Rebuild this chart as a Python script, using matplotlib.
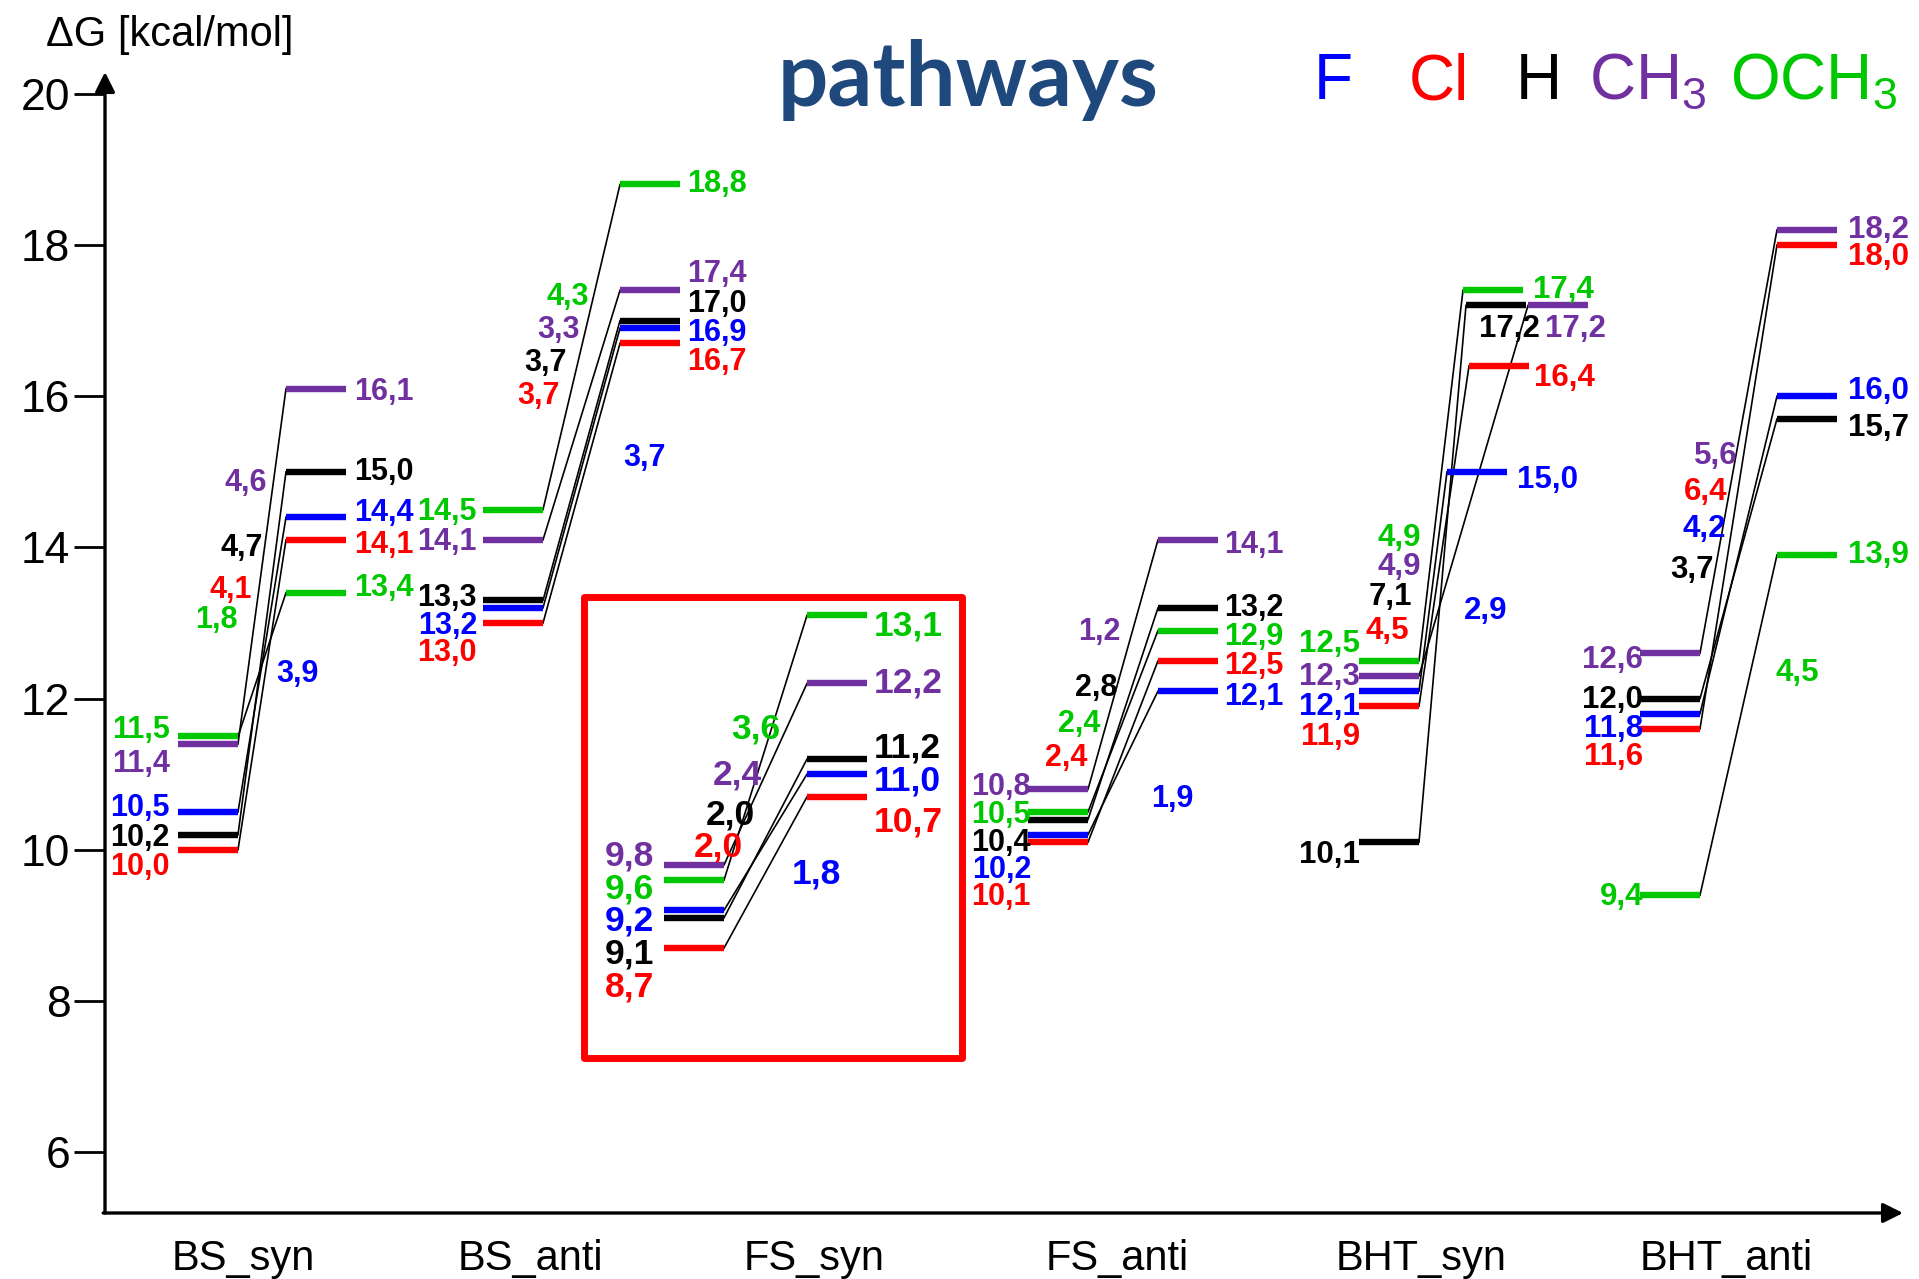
import matplotlib
matplotlib.use("Agg")
import matplotlib.pyplot as plt
from matplotlib.patches import Rectangle

plt.rcParams['font.family'] = ['Liberation Sans', 'DejaVu Sans']
plt.rcParams['mathtext.fontset'] = 'custom'
plt.rcParams['mathtext.rm'] = 'Liberation Sans'
plt.rcParams['mathtext.default'] = 'regular'

# ---------------------------------------------------------------- data
categories = ['BS_syn', 'BS_anti', 'FS_syn', 'FS_anti', 'BHT_syn', 'BHT_anti']
substituents = ['F', 'Cl', 'H', 'CH3', 'OCH3']
legend_labels = ['F', 'Cl', 'H', 'CH$_3$', 'OCH$_3$']

# ΔG of the starting level, of the upper level and the barrier label, kcal/mol
F_start = [10.5, 13.2, 9.2, 10.2, 12.1, 11.8]
F_upper = [14.4, 16.9, 11.0, 12.1, 15.0, 16.0]
F_barrier = [3.9, 3.7, 1.8, 1.9, 2.9, 4.2]

Cl_start = [10.0, 13.0, 8.7, 10.1, 11.9, 11.6]
Cl_upper = [14.1, 16.7, 10.7, 12.5, 16.4, 18.0]
Cl_barrier = [4.1, 3.7, 2.0, 2.4, 4.5, 6.4]

H_start = [10.2, 13.3, 9.1, 10.4, 10.1, 12.0]
H_upper = [15.0, 17.0, 11.2, 13.2, 17.2, 15.7]
H_barrier = [4.7, 3.7, 2.0, 2.8, 7.1, 3.7]

CH3_start = [11.4, 14.1, 9.8, 10.8, 12.3, 12.6]
CH3_upper = [16.1, 17.4, 12.2, 14.1, 17.2, 18.2]
CH3_barrier = [4.6, 3.3, 2.4, 1.2, 4.9, 5.6]

OCH3_start = [11.5, 14.5, 9.6, 10.5, 12.5, 9.4]
OCH3_upper = [13.4, 18.8, 13.1, 12.9, 17.4, 13.9]
OCH3_barrier = [1.8, 4.3, 3.6, 2.4, 4.9, 4.5]

y_ticks = [6, 8, 10, 12, 14, 16, 18, 20]

start = {'F': F_start, 'Cl': Cl_start, 'H': H_start, 'CH3': CH3_start, 'OCH3': OCH3_start}
upper = {'F': F_upper, 'Cl': Cl_upper, 'H': H_upper, 'CH3': CH3_upper, 'OCH3': OCH3_upper}
barrier = {'F': F_barrier, 'Cl': Cl_barrier, 'H': H_barrier, 'CH3': CH3_barrier,
           'OCH3': OCH3_barrier}

# ---------------------------------------------------------------- style / layout
colors = {'F': '#0000FF', 'Cl': '#FF0000', 'H': '#000000', 'CH3': '#7030A0', 'OCH3': '#00C800'}

W, H = 1919, 1279
cat_x = [243, 530, 814, 1117, 1421, 1726]          # category label centres
left_x0 = [178, 483, 664, 1028, 1359, 1640]        # start of the lower level bars
right_x0 = [286, 620, 807, 1158, 1465, 1777]       # start of the upper level bars
right_x0_special = {4: {'F': 1447, 'Cl': 1469, 'H': 1466, 'CH3': 1528, 'OCH3': 1463}}
BAR_W = 60

left_lab_x = [170, 477, 654, 1031, 1360, 1643]     # right edge of the lower labels
right_lab_x = [354, 687, 874, 1224, 1520, 1848]    # left edge of the upper labels
right_lab_special = {4: {'F': 1517, 'Cl': 1534, 'H': 1479, 'CH3': 1545, 'OCH3': 1533}}
label_size = [22, 22, 25.5, 22, 22.5, 22.5]

# vertical nudges of the value labels (order F, Cl, H, CH3, OCH3)
left_dv = [
    [0.05, -0.23, -0.04, -0.26, 0.08],
    [-0.24, -0.40, 0.03, -0.03, -0.03],
    [-0.14, -0.52, -0.48, 0.12, -0.12],
    [-0.47, -0.72, -0.31, 0.03, -0.04],
    [-0.21, -0.41, -0.17, -0.01, 0.22],
    [-0.20, -0.37, -0.02, -0.09, -0.02],
]
right_dv = [
    [0.05, -0.07, 0.0, -0.04, 0.06],
    [-0.07, -0.25, 0.22, 0.22, 0.0],
    [-0.09, -0.33, 0.15, 0.0, -0.14],
    [-0.08, -0.07, 0.0, -0.07, -0.08],
    [-0.11, -0.16, -0.31, -0.31, 0.0],
    [0.07, -0.16, -0.12, 0.0, 0.0],
]
# positions of the barrier labels (x centre, y)
barrier_pos = [
    [(297.5, 12.33), (230.5, 13.44), (242, 13.99), (245.5, 14.85), (216, 13.04)],
    [(644.5, 15.18), (538.5, 16.00), (546, 16.44), (559, 16.87), (568, 17.31)],
    [(816, 9.68), (718, 10.04), (730, 10.46), (737.5, 10.99), (756, 11.60)],
    [(1172.5, 10.67), (1066.5, 11.21), (1096, 12.14), (1099, 12.88), (1079.5, 11.66)],
    [(1485.5, 13.16), (1387, 12.89), (1390.5, 13.34), (1399, 13.74), (1399, 14.13)],
    [(1704, 14.24), (1706, 14.73), (1692, 13.70), (1716, 15.21), (1797, 12.34)],
]


def fmt(v):
    return f"{v:.1f}".replace('.', ',')


fig = plt.figure(figsize=(W / 100, H / 100), dpi=100)
ax_left, ax_right, ax_top, ax_bottom = 105, 1903, 72, 1213
ax = fig.add_axes([ax_left / W, 1 - ax_bottom / H, (ax_right - ax_left) / W,
                   (ax_bottom - ax_top) / H])
ax.set_xlim(ax_left, ax_right)
ax.set_ylim(5.196, 20.288)
for s in ax.spines.values():
    s.set_visible(False)

# axes drawn as arrows
arrow = dict(arrowstyle='-|>', lw=2.4, color='black', mutation_scale=30, shrinkA=0, shrinkB=0)
ax.annotate('', xy=(0, 1), xytext=(0, 0), xycoords='axes fraction', arrowprops=arrow)
ax.annotate('', xy=(1, 0), xytext=(-0.001, 0), xycoords='axes fraction', arrowprops=arrow)

ax.set_yticks(y_ticks)
ax.set_yticklabels([str(t) for t in y_ticks], fontsize=32)
ax.tick_params(axis='y', direction='out', length=22, width=2, pad=3)
ax.set_xticks(cat_x)
ax.set_xticklabels(categories, fontsize=30)
ax.tick_params(axis='x', length=0, pad=19)

for g in range(len(categories)):
    fs = label_size[g]
    for k, sub in enumerate(substituents):
        c = colors[sub]
        v0 = start[sub][g]
        v1 = upper[sub][g]
        lx0 = left_x0[g]
        rx0 = right_x0_special.get(g, {}).get(sub, right_x0[g])
        # connector from the lower level to the upper level
        ax.plot([lx0 + BAR_W, rx0], [v0, v1], color='black', lw=1.2, zorder=2)
        # levels
        ax.plot([lx0, lx0 + BAR_W], [v0, v0], color=c, lw=4.6, solid_capstyle='butt', zorder=3)
        ax.plot([rx0, rx0 + BAR_W], [v1, v1], color=c, lw=4.6, solid_capstyle='butt', zorder=3)
        # value labels
        ax.text(left_lab_x[g], v0 + left_dv[g][k], fmt(v0), ha='right', va='center',
                fontsize=fs, fontweight='bold', color=c, zorder=4)
        rlx = right_lab_special.get(g, {}).get(sub, right_lab_x[g])
        ax.text(rlx, v1 + right_dv[g][k], fmt(v1), ha='left', va='center',
                fontsize=fs, fontweight='bold', color=c, zorder=4)
        bx, by = barrier_pos[g][k]
        ax.text(bx, by, fmt(barrier[sub][g]), ha='center', va='center',
                fontsize=fs, fontweight='bold', color=c, zorder=4)

# highlight frame around the FS_syn pathway
ax.add_patch(Rectangle((583.5, 7.24), 961.5 - 583.5, 13.35 - 7.24, fill=False,
                       edgecolor='#FF0000', lw=5, joinstyle='round', zorder=5))

# axis title, headline and substituent key
fig.text(46 / W, 1 - 46 / H, 'ΔG [kcal/mol]', fontsize=30, ha='left', va='baseline')
fig.text(778 / W, 1 - 106 / H, 'pathways', fontsize=64, fontweight='bold',
         family=['Lato', 'DejaVu Sans'], color='#1F497D', ha='left', va='baseline')
key_x = [1314, 1409, 1516, 1589, 1730]
for sub, lab, kx in zip(substituents, legend_labels, key_x):
    fig.text(kx / W, 1 - 99 / H, lab, fontsize=46, color=colors[sub], ha='left', va='baseline')

fig.savefig('out.png', dpi=100)
